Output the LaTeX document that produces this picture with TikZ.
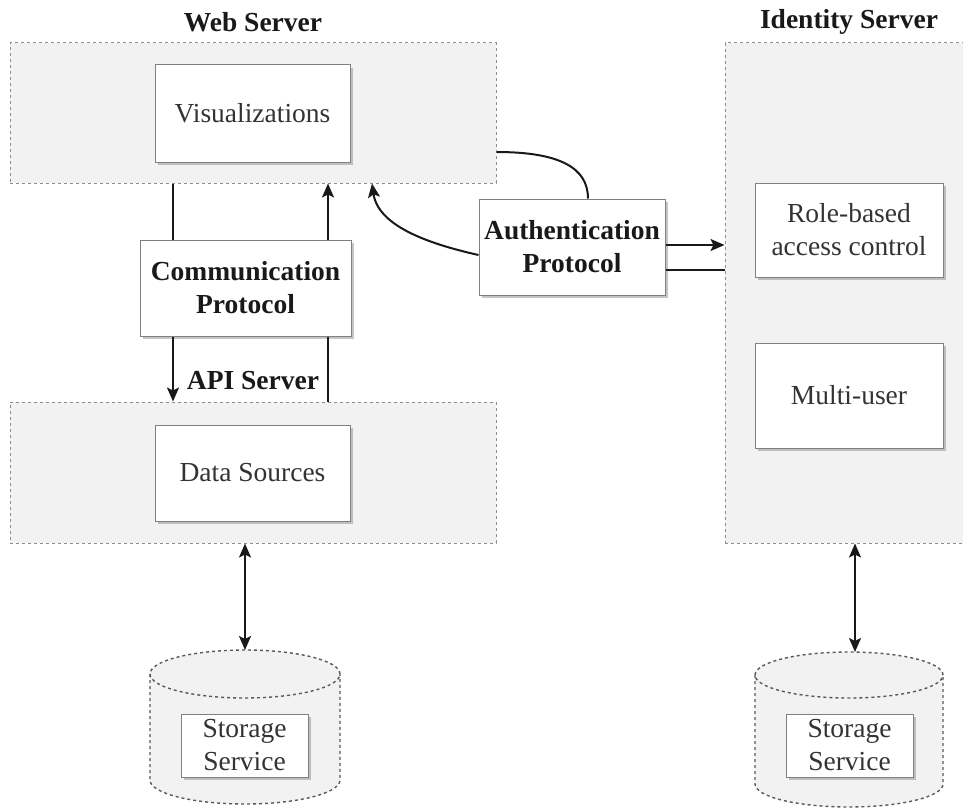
\documentclass[tikz,border=0pt]{standalone}
\usepackage{fontspec}
\setmainfont{Liberation Serif}
\usetikzlibrary{shadows,arrows.meta}
\newcommand\txtfont{\fontsize{27.5}{33}\selectfont}
\tikzset{
  cont/.style={draw=black!45, fill=black!5, dash pattern=on 3pt off 3pt, line width=1pt, inner sep=0pt},
  box/.style={draw=black!50, fill=white, line width=1pt,
    drop shadow={shadow xshift=2.5pt, shadow yshift=-2.5pt, fill=black!45},
    align=center, inner sep=1pt, text=black!80, font=\txtfont},
  boldbox/.style={box, font=\txtfont\bfseries, text=black!90},
  ttl/.style={font=\txtfont\bfseries, text=black!90, inner sep=0pt},
  conn/.style={line width=2pt, draw=black!90},
  arr/.style={conn, -{Stealth[length=14pt,width=12pt,inset=3pt]}},
  darr/.style={conn, {Stealth[length=14pt,width=12pt,inset=3pt]}-{Stealth[length=14pt,width=12pt,inset=3pt]}},
  cyl/.style={draw=black!65, dash pattern=on 3pt off 3pt, line width=1.4pt},
  cylfill/.style={fill=black!5}
}
\begin{document}
\begin{tikzpicture}[x=1pt,y=-1pt]
\useasboundingbox (0,0) rectangle (963,808);
\clip (0,0) rectangle (963,808);
% containers
\node[cont, minimum width=486pt, minimum height=140pt] (ws) at (253,113) {};
\node[ttl] (wst) at (253,22) {Web Server};
\node[cont, minimum width=486pt, minimum height=141pt] (api) at (253,472.5) {};
\node[ttl] (apit) at (253,381) {API Server};
\node[cont, minimum width=260pt, minimum height=500pt] (ids) at (855,293) {};
\node[ttl] (idt) at (849,22) {Identity Server};
% cylinders
\fill[cylfill] (150,674) -- (150,780) arc[start angle=180,end angle=360,x radius=95pt,y radius=24pt] -- (340,674) arc[start angle=0,end angle=180,x radius=95pt,y radius=24pt] -- cycle;
\draw[cyl] (150,674) -- (150,780) arc[start angle=180,end angle=360,x radius=95pt,y radius=24pt] -- (340,674);
\draw[cyl] (245,674) ellipse [x radius=95pt, y radius=24pt];
\coordinate (c1top) at (245,650);
\fill[cylfill] (755,675) -- (755,784) arc[start angle=180,end angle=360,x radius=94pt,y radius=23pt] -- (943,675) arc[start angle=0,end angle=180,x radius=94pt,y radius=23pt] -- cycle;
\draw[cyl] (755,675) -- (755,784) arc[start angle=180,end angle=360,x radius=94pt,y radius=23pt] -- (943,675);
\draw[cyl] (849,675) ellipse [x radius=94pt, y radius=23pt];
\coordinate (c2top) at (855,652);
% boxes
\node[box, minimum width=195pt, minimum height=97pt] (vis) at (252.5,113.5) {Visualizations};
\node[boldbox, minimum width=211pt, minimum height=96pt] (comm) at (245.5,288) {Communication\\Protocol};
\node[box, minimum width=195pt, minimum height=96pt] (ds) at (252.5,473) {Data Sources};
\node[box, minimum width=188pt, minimum height=94pt] (rbac) at (849,230) {Role-based\\access control};
\node[box, minimum width=188pt, minimum height=105pt] (mu) at (849,395.5) {Multi-user};
\node[boldbox, minimum width=186pt, minimum height=96pt] (auth) at (572,247) {Authentication\\Protocol};
\node[box, minimum width=127pt, minimum height=63pt] (s1) at (244.5,745.5) {Storage\\Service};
\node[box, minimum width=127pt, minimum height=63pt] (s2) at (849.5,745.5) {Storage\\Service};
% connectors
\draw[conn] ([xshift=-72.5pt]comm.north) -- ([xshift=-72.5pt]comm.north |- ws.south);
\draw[arr] ([xshift=82.5pt]comm.north) -- ([xshift=82.5pt]comm.north |- ws.south);
\draw[arr] ([xshift=-72.5pt]comm.south) -- ([xshift=-72.5pt]comm.south |- api.north);
\draw[conn] ([xshift=82.5pt]comm.south) -- ([xshift=82.5pt]comm.south |- api.north);
\draw[darr] (api.south -| c1top) -- (c1top);
\draw[darr] (ids.south -| c2top) -- (c2top);
\draw[arr] ([yshift=2pt]auth.east) -- ([yshift=2pt]auth.east -| ids.west);
\draw[conn] ([yshift=-23pt]auth.east) -- ([yshift=-23pt]auth.east -| ids.west);
\draw[conn] ([yshift=-39pt]ws.east) .. controls (560,152) and (588,168) .. ([xshift=16pt]auth.north);
\draw[arr] ([yshift=-8pt]auth.west) .. controls (425,243) and (378,225) .. ([xshift=119pt]ws.south);
\end{tikzpicture}
\end{document}
